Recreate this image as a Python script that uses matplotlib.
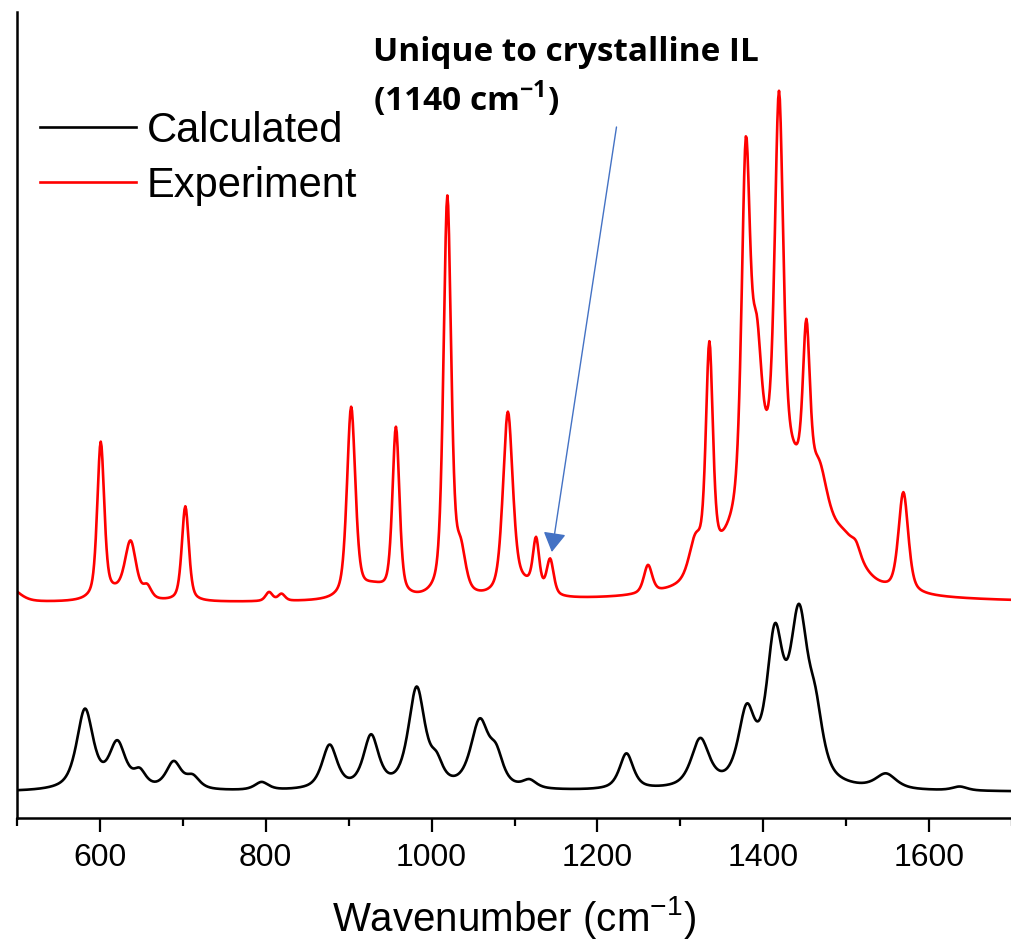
import numpy as np
import matplotlib
matplotlib.use("Agg")
import matplotlib.pyplot as plt

# ---------------- data ----------------
# Calculated spectrum: peak centres (cm-1), heights, FWHM (cm-1)
calc_centers = [582, 621, 648, 689, 712, 795, 877, 927, 982, 1006, 1058, 1078, 1118,
                1235, 1324, 1380, 1414, 1443, 1463, 1548, 1637]
calc_heights = [80, 45, 15, 27, 12, 8, 44, 52, 100, 20, 66, 28, 8,
                36, 48, 70, 140, 160, 55, 15, 4]
calc_widths = [24, 24, 18, 22, 20, 20, 22, 22, 24, 18, 26, 20, 20,
               20, 26, 24, 24, 26, 22, 30, 22]
calc_offset = 26

# Experimental spectrum: peak centres (cm-1), heights, FWHM (cm-1)
exp_centers = [490, 601, 620, 637, 657, 703, 804, 819, 903, 930, 957, 1019, 1035,
               1092, 1110, 1126, 1143, 1261, 1318, 1335, 1379, 1392, 1419, 1420,
               1452, 1468, 1500, 1512, 1569]
exp_heights = [15, 155, 8, 55, 12, 95, 9, 7, 190, 12, 168, 400, 40,
               180, 12, 50, 35, 28, 35, 217, 348, 128, 362, 138,
               155, 45, 26, 10, 100]
exp_widths = [30, 10, 40, 16, 12, 10, 10, 10, 12, 40, 10, 11, 14,
              14, 40, 9, 10, 12, 18, 10, 12, 14, 12, 110,
              10, 22, 40, 12, 14]
exp_offset = 215

wavenumber_range = (500, 1700)
x_ticks = [600, 800, 1000, 1200, 1400, 1600]
series_labels = ["Calculated", "Experiment"]


def spectrum(x, centers, heights, widths, eta):
    y = np.zeros_like(x, dtype=float)
    for c, h, w in zip(centers, heights, widths):
        u = ((x - c) / (w / 2.0)) ** 2
        y += h * (eta / (1.0 + u) + (1 - eta) * np.exp(-np.log(2) * u))
    return y


x = np.arange(wavenumber_range[0], wavenumber_range[1] + 1, 1.0)
y_calc = calc_offset + spectrum(x, calc_centers, calc_heights, calc_widths, 0.7)
y_exp = exp_offset + spectrum(x, exp_centers, exp_heights, exp_widths, 0.5)

# ---------------- figure ----------------
plt.rcParams['font.family'] = ['Liberation Sans', 'DejaVu Sans']
plt.rcParams['mathtext.fontset'] = 'custom'
plt.rcParams['mathtext.rm'] = 'Liberation Sans'
plt.rcParams['mathtext.bf'] = 'Open Sans:bold'

W, H = 1012, 946
fig = plt.figure(figsize=(W / 100, H / 100), dpi=100)
ax = fig.add_axes([17 / W, (H - 818) / H, (1012 - 17) / W, (818 - 12) / H])

ax.plot(x, y_calc, color='black', lw=1.9, label=series_labels[0])
ax.plot(x, y_exp, color='#ff0000', lw=1.9, label=series_labels[1])

ax.set_xlim(500, 1696)
ax.set_ylim(0, 806)
ax.set_yticks([])
ax.set_xticks(x_ticks)
ax.set_xticks(np.arange(500, 1701, 100), minor=True)
ax.tick_params(axis='x', which='major', length=10, width=1.6, labelsize=23, pad=8)
ax.tick_params(axis='x', which='minor', length=6, width=1.6)
for s in ['top', 'right']:
    ax.spines[s].set_visible(False)
for s in ['left', 'bottom']:
    ax.spines[s].set_linewidth(1.8)
ax.set_xlabel('Wavenumber (cm$^{-1}$)', fontsize=29, labelpad=15)

leg = ax.legend(loc='upper left', bbox_to_anchor=(40 / W, 1 - 111 / H),
                bbox_transform=fig.transFigure, frameon=False, fontsize=30,
                handlelength=2.3, handletextpad=0.27, labelspacing=0.35,
                borderpad=0, borderaxespad=0)

ax.annotate('', xy=(1145, 266), xytext=(1223, 691), xycoords='data',
            arrowprops=dict(arrowstyle='-|>,head_length=0.6,head_width=0.35',
                            color='#4472C4', lw=1.0, mutation_scale=20,
                            shrinkA=0, shrinkB=0))
ax.text(929, 757, 'Unique to crystalline IL', fontsize=24, fontweight='bold',
        family='Open Sans', va='baseline', ha='left')
ax.text(929, 707, r'(1140 cm$^{\mathbf{-1}}$)', fontsize=24, fontweight='bold',
        family='Open Sans', va='baseline', ha='left')

fig.savefig('out.png', dpi=100)
